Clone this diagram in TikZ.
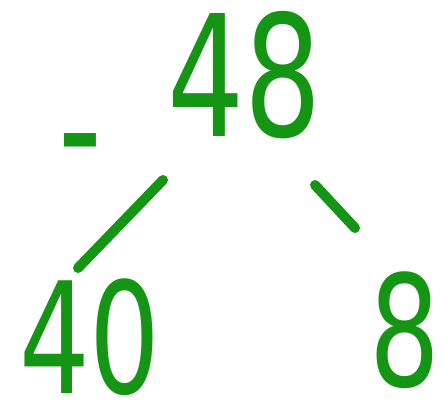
\documentclass[tikz,border=0pt]{standalone}
\usepackage{fontspec}
\setmainfont{DejaVu Sans}
\usepackage{tikz}
\usetikzlibrary{positioning,calc}
\definecolor{penGreen}{RGB}{20,150,20}

\begin{document}
\begin{tikzpicture}[
    digit/.style={text=penGreen, inner sep=0pt, font=\fontsize{96}{96}\selectfont,
        xscale=0.72, transform shape},
    lowdigit/.style={digit, font=\fontsize{88}{88}\selectfont},
    pen/.style={line width=0.2cm, penGreen, line cap=round}
]
    \useasboundingbox (0,0) rectangle (8.9,-8.28);
    \node[digit] (n48) at (4.9,-1.5) {48};
    \node[digit] (minus) at (1.6,-3.2) {-};
    \node[lowdigit] (n40) at (1.8,-6.75) {40};
    \node[lowdigit] (n8) at (8.1,-6.6) {8};

    \coordinate (l1) at (3.26,-3.6);
    \coordinate (l2) at (1.56,-5.36);
    \coordinate (r1) at (6.3,-3.7);
    \coordinate (r2) at (7.1,-4.56);
    \draw[pen] (l1) -- (l2);
    \draw[pen] (r1) -- (r2);
\end{tikzpicture}
\end{document}
